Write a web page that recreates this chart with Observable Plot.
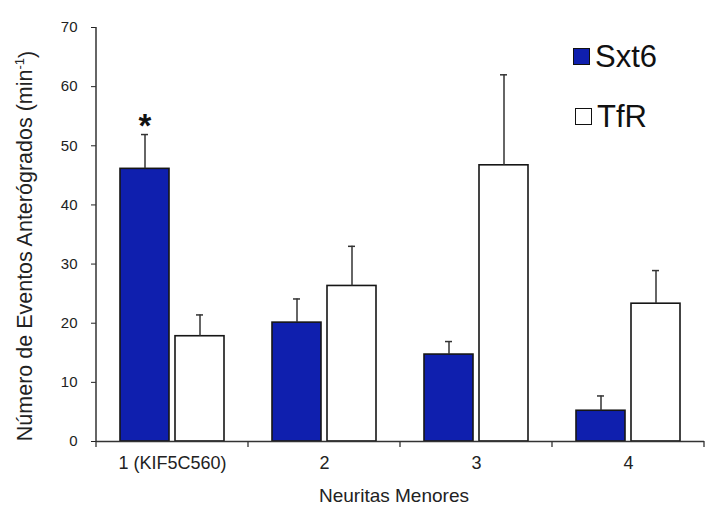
<!DOCTYPE html>
<html><head><meta charset="utf-8">
<script src="https://cdn.jsdelivr.net/npm/d3@7"></script>
<script src="https://cdn.jsdelivr.net/npm/@observablehq/plot@0.6"></script>
<style>
body{margin:0;background:#fff;}
#wrap{position:relative;width:706px;height:512px;font-family:"Liberation Sans",Arial,sans-serif;}
.leg{position:absolute;display:flex;align-items:center;color:#111;font-size:31px;line-height:1;}
.sw{width:17px;height:17px;box-sizing:border-box;border:1.5px solid #111;margin-right:5px;}
</style></head><body><div id="wrap"></div>
<script>
const categories = ["1 (KIF5C560)", "2", "3", "4"];
const seriesNames = ["Sxt6", "TfR"];
const seriesColors = ["#0f1fae", "#ffffff"];
const sxt6 = [46.1, 20.1, 14.7, 5.2];
const sxt6Err = [5.8, 4.0, 2.2, 2.5];
const tfr = [17.8, 26.3, 46.7, 23.3];
const tfrErr = [3.6, 6.7, 15.3, 5.6];
const yTicks = [0, 10, 20, 30, 40, 50, 60, 70];
const starCategory = "1 (KIF5C560)";
const starSeries = "Sxt6";
const xLabel = "Neuritas Menores";
const yLabelMain = "Número de Eventos Anterógrados (min";
const yLabelSup = "-1";

const rows = [];
categories.forEach((c, i) => {
  rows.push({cat: c, series: "Sxt6", value: sxt6[i], err: sxt6Err[i]});
  rows.push({cat: c, series: "TfR", value: tfr[i], err: tfrErr[i]});
});
const star = rows.filter(d => d.cat === starCategory && d.series === starSeries);

const plot = Plot.plot({
  width: 706, height: 512,
  marginLeft: 94, marginRight: 1, marginTop: 27, marginBottom: 71,
  style: {fontFamily: '"Liberation Sans", Arial, sans-serif', fontSize: "15px", color: "#222", background: "#fff"},
  fx: {domain: categories, padding: 0, label: null, tickSize: 0, tickPadding: 15},
  x: {domain: seriesNames, paddingInner: 0.107, paddingOuter: 0.4175, axis: null},
  y: {domain: [0, 70], ticks: yTicks, tickSize: 5, tickPadding: 14, label: null},
  color: {domain: seriesNames, range: seriesColors},
  marks: [
    Plot.barY(rows, {fx: "cat", x: "series", y: "value", fill: "series", stroke: "#161616", strokeWidth: 1.6}),
    Plot.ruleX(rows, {fx: "cat", x: "series", y1: "value", y2: d => d.value + d.err, stroke: "#333", strokeWidth: 1.5}),
    Plot.tickY(rows, {fx: "cat", x: "series", y: d => d.value + d.err, stroke: "#333", strokeWidth: 1.5, insetLeft: 21, insetRight: 21}),
    Plot.ruleY([0], {stroke: "#333", strokeWidth: 1.5}),
    Plot.text(star, {fx: "cat", x: "series", y: d => d.value + d.err, text: () => "*", fontSize: 33, fontWeight: "bold", lineAnchor: "bottom", dy: 2, fill: "#111"})
  ]
});

const wrap = document.getElementById("wrap");
wrap.appendChild(plot);

const svg = d3.select(plot);
const fx = plot.scale("fx");
const y = plot.scale("y");
const y0 = y.apply(0), yTop = y.apply(70);
const left = fx.apply(categories[0]);
svg.selectAll('[aria-label^="fx-axis"] text').attr("font-size", 18).style("font-size", "18px");
svg.append("line").attr("x1", left).attr("x2", left).attr("y1", y0).attr("y2", yTop)
  .attr("stroke", "#333").attr("stroke-width", 1.5);
const bounds = categories.map(c => fx.apply(c)).concat([fx.apply(categories[categories.length - 1]) + fx.bandwidth]);
svg.append("g").selectAll("line").data(bounds).join("line")
  .attr("x1", d => d).attr("x2", d => d).attr("y1", y0).attr("y2", y0 + 6)
  .attr("stroke", "#333").attr("stroke-width", 1.3);
const fxMid = (fx.apply(categories[0]) + fx.apply(categories[categories.length - 1]) + fx.bandwidth) / 2;
svg.append("text").attr("x", fxMid - 6).attr("y", 502).attr("text-anchor", "middle")
  .attr("font-size", 19).attr("fill", "#222").text(xLabel);
const yl = svg.append("text").attr("transform", `translate(32,${(y0 + yTop) / 2 + 12}) rotate(-90)`)
  .attr("text-anchor", "middle").attr("font-size", 21.5).attr("fill", "#222");
yl.append("tspan").text(yLabelMain);
yl.append("tspan").attr("font-size", 13).attr("dy", "-0.6em").text(yLabelSup);
yl.append("tspan").attr("dy", "0.45em").text(")");

seriesNames.forEach((s, i) => {
  const d = document.createElement("div");
  d.className = "leg";
  d.style.left = (i === 0 ? 573 : 575) + "px";
  d.style.top = (i === 0 ? 41 : 101) + "px";
  const sw = document.createElement("div");
  sw.className = "sw";
  sw.style.background = seriesColors[i];
  const t = document.createElement("span");
  t.textContent = s;
  d.appendChild(sw); d.appendChild(t);
  wrap.appendChild(d);
});
</script></body></html>
